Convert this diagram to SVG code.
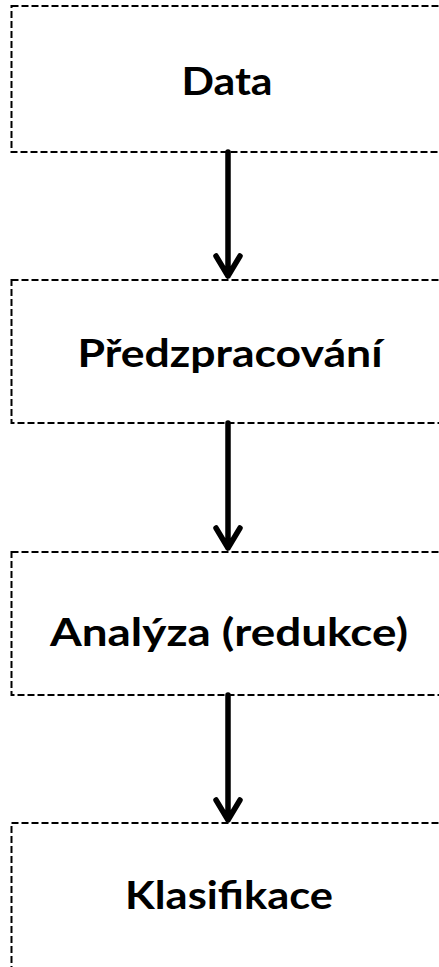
<svg xmlns="http://www.w3.org/2000/svg" width="439" height="967" viewBox="0 0 439 967">
<style>
.box{fill:#ffffff;stroke:#000000;stroke-width:2;stroke-dasharray:7 3}
.lbl{font-family:Lato,"Liberation Sans",Arial,sans-serif;font-weight:bold;font-size:39px;fill:#000000;text-anchor:middle}
.conn{fill:none;stroke:#000000;stroke-width:5.5;stroke-linecap:round;stroke-linejoin:round}
</style>
<rect width="439" height="967" fill="#ffffff"/>
<g id="node-data">
<rect class="box" x="11.5" y="6" width="440" height="146"/>
<text class="lbl" x="227" y="95" textLength="91" lengthAdjust="spacingAndGlyphs">Data</text>
</g>
<g id="node-predzpracovani">
<rect class="box" x="11.5" y="280" width="440" height="143"/>
<text class="lbl" x="230" y="367" textLength="305" lengthAdjust="spacingAndGlyphs">Předzpracování</text>
</g>
<g id="node-analyza">
<rect class="box" x="11.5" y="552" width="440" height="143"/>
<text class="lbl" x="229" y="646" textLength="358" lengthAdjust="spacingAndGlyphs">Analýza (redukce)</text>
</g>
<g id="node-klasifikace">
<rect class="box" x="11.5" y="823" width="440" height="160"/>
<text class="lbl" x="229" y="909" textLength="208" lengthAdjust="spacingAndGlyphs">Klasifikace</text>
</g>
<g id="connectors">
<path class="conn" d="M228 152 V276 M216 256 L228 276 L240 256"/>
<path class="conn" d="M228 423 V548 M216 528 L228 548 L240 528"/>
<path class="conn" d="M228 695 V820 M216 800 L228 820 L240 800"/>
</g>
</svg>
